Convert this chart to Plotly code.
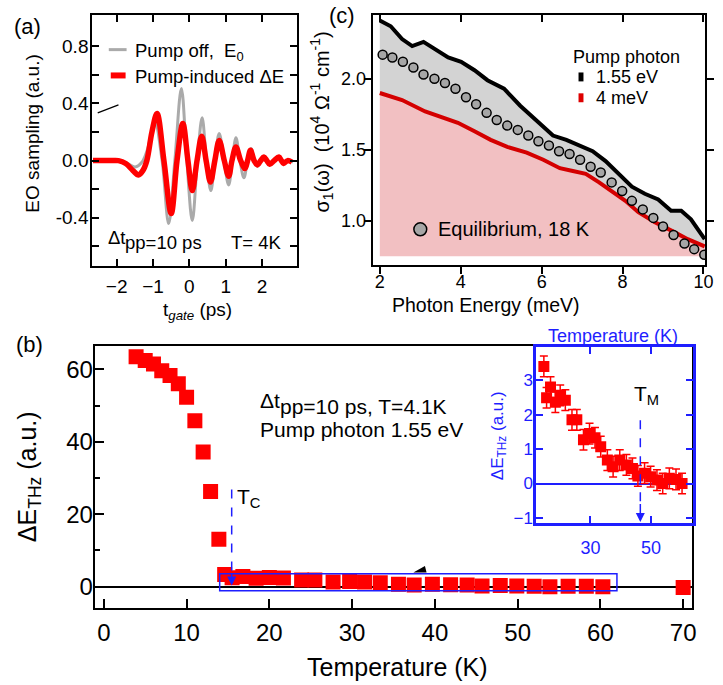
import plotly.graph_objects as go

# ---------------- data ----------------
# (a) EO sampling traces
A_T_E0 = [-2.65, -2.2, -1.9, -1.7, -1.49, -1.3, -1.15, -0.95, -0.75, -0.57, -0.40, -0.22, -0.07, 0.08, 0.22,
          0.35, 0.47, 0.59, 0.70, 0.82, 0.95, 1.08, 1.18, 1.28, 1.39, 1.50, 1.60, 1.70, 1.79, 1.87, 1.96,
          2.05, 2.13, 2.21, 2.33, 2.46, 2.53, 2.59, 2.70, 2.85]
A_E0 = [0.0, 0.0, 0.0, -0.02, -0.045, -0.01, 0.08, 0.27, 0.0, -0.44, 0.0, 0.505, 0.0, -0.42, 0.0,
        0.30, 0.0, -0.21, 0.0, 0.19, 0.0, -0.17, 0.0, 0.16, 0.0, -0.12, 0.0, 0.085, 0.0, -0.04, 0.0,
        0.03, 0.0, -0.025, 0.0, 0.025, 0.0, -0.02, 0.0, -0.01]
A_T_DE = [-2.65, -2.2, -1.95, -1.75, -1.55, -1.40, -1.28, -1.17, -1.03, -0.89, -0.70, -0.50, -0.34, -0.18,
          -0.04, 0.08, 0.21, 0.34, 0.46, 0.58, 0.70, 0.82, 0.96, 1.08, 1.17, 1.28, 1.41, 1.53, 1.60, 1.68,
          1.78, 1.87, 1.96, 2.05, 2.13, 2.21, 2.33, 2.46, 2.53, 2.59, 2.70, 2.82]
A_DE = [0.0, 0.0, 0.0, -0.02, -0.07, -0.10, -0.07, 0.0, 0.20, 0.33, 0.0, -0.37, 0.0, 0.26,
        0.0, -0.21, 0.0, 0.17, 0.0, -0.15, 0.0, 0.14, 0.0, -0.11, 0.0, 0.095, 0.0, -0.056, 0.0, 0.072,
        0.0, -0.03, 0.0, 0.025, 0.0, -0.026, 0.0, 0.025, 0.0, -0.02, 0.0, -0.01]

# (c) optical conductivity
C_E_BLACK = [2.0, 2.27, 2.55, 2.80, 3.08, 3.36, 3.69, 4.01, 4.34, 4.66, 5.07, 5.47, 5.88, 6.28, 6.61,
             6.93, 7.26, 7.58, 7.90, 8.23, 8.55, 8.88, 9.20, 9.45, 9.69, 9.88, 10.03]
C_S_BLACK = [2.41, 2.37, 2.28, 2.23, 2.26, 2.21, 2.15, 2.12, 2.06, 1.99, 1.93, 1.81, 1.70, 1.60, 1.57,
             1.53, 1.49, 1.42, 1.33, 1.24, 1.19, 1.15, 1.07, 1.07, 1.01, 0.93, 0.87]
C_E_RED = [2.0, 2.55, 3.12, 3.52, 3.93, 4.34, 4.74, 5.15, 5.63, 6.04, 6.45, 6.77, 7.09, 7.42, 7.74,
           8.07, 8.39, 8.80, 9.28, 9.61, 10.03]
C_S_RED = [1.90, 1.85, 1.77, 1.73, 1.69, 1.63, 1.57, 1.52, 1.48, 1.43, 1.37, 1.35, 1.33, 1.27, 1.21,
           1.14, 1.06, 0.99, 0.92, 0.87, 0.82]
C_E_EQ = [2.07, 2.31, 2.57, 2.83, 3.08, 3.35, 3.61, 3.87, 4.13, 4.38, 4.64, 4.89, 5.15, 5.41, 5.67,
          5.92, 6.18, 6.43, 6.69, 6.95, 7.21, 7.46, 7.73, 7.99, 8.23, 8.50, 8.76, 9.00, 9.26, 9.53,
          9.77, 10.02]
C_S_EQ = [2.17, 2.15, 2.12, 2.08, 2.03, 2.00, 1.97, 1.93, 1.87, 1.82, 1.76, 1.71, 1.67, 1.64, 1.60,
          1.56, 1.53, 1.49, 1.47, 1.43, 1.38, 1.34, 1.27, 1.21, 1.14, 1.08, 1.02, 0.96, 0.90, 0.84,
          0.80, 0.76]
C_FILL_BASE = 0.75

# (b) temperature dependence
B_T_LOW = [3.9, 5.0, 6.0, 7.0, 8.0, 9.0, 10.0, 11.0, 12.0, 12.9, 13.9]
B_DE_LOW = [63.5, 62.4, 61.5, 59.6, 58.3, 56.0, 52.3, 45.8, 37.2, 26.3, 13.1]
INSET_T = [14.6, 15.5, 16.8, 18.4, 20.0, 21.7, 23.9, 25.5, 27.7, 29.7, 31.5, 33.4, 35.6, 37.5, 39.7,
           41.9, 43.9, 45.7, 47.9, 49.9, 52.0, 53.9, 56.1, 58.3, 60.3]
INSET_DE = [3.4, 2.49, 2.8, 2.36, 2.56, 2.42, 1.85, 1.85, 1.27, 1.45, 1.33, 1.07, 0.68, 0.49, 0.68,
            0.54, 0.44, 0.22, 0.30, 0.20, 0.10, 0.0, 0.15, 0.12, 0.0]
INSET_ERR = [0.3] * len(INSET_T)
B_T_HIGH = [70.0]
B_DE_HIGH = [-0.2]

# ---------------- layout helpers ----------------
W, H = 723, 685
FONT = "Liberation Sans, Arial, sans-serif"
BLUE = "rgb(30,30,255)"


def PX(x):
    return x / W


def PY(y):
    return 1 - y / H


fig = go.Figure()

# (a)
fig.add_trace(go.Scatter(x=A_T_E0, y=A_E0, mode="lines", line=dict(color="#aaaaaa", width=3, shape="spline"),
                         xaxis="x", yaxis="y", showlegend=False))
fig.add_trace(go.Scatter(x=A_T_DE, y=A_DE, mode="lines", line=dict(color="#ff0000", width=5.5, shape="spline"),
                         xaxis="x", yaxis="y", showlegend=False))

# (c) fills
fig.add_trace(go.Scatter(x=[C_E_RED[0], C_E_RED[-1]], y=[C_FILL_BASE, C_FILL_BASE], mode="lines",
                         line=dict(width=0), xaxis="x2", yaxis="y2", showlegend=False))
fig.add_trace(go.Scatter(x=C_E_RED, y=C_S_RED, mode="lines", line=dict(width=0), fill="tonexty",
                         fillcolor="#f2c0c2", xaxis="x2", yaxis="y2", showlegend=False))
fig.add_trace(go.Scatter(x=C_E_BLACK, y=C_S_BLACK, mode="lines", line=dict(width=0), fill="tonexty",
                         fillcolor="#d3d3d3", xaxis="x2", yaxis="y2", showlegend=False))
fig.add_trace(go.Scatter(x=C_E_RED, y=C_S_RED, mode="lines", line=dict(color="#d40000", width=4),
                         xaxis="x2", yaxis="y2", showlegend=False))
fig.add_trace(go.Scatter(x=C_E_BLACK, y=C_S_BLACK, mode="lines", line=dict(color="black", width=4),
                         xaxis="x2", yaxis="y2", showlegend=False))
fig.add_trace(go.Scatter(x=C_E_EQ, y=C_S_EQ, mode="markers",
                         marker=dict(symbol="circle", size=9, color="#a6a6a6", line=dict(color="black", width=1.5)),
                         xaxis="x2", yaxis="y2", showlegend=False))
fig.add_trace(go.Scatter(x=[], y=[], xaxis="x5", yaxis="y2", showlegend=False))

# (b) main
fig.add_trace(go.Scatter(x=B_T_LOW + INSET_T + B_T_HIGH, y=B_DE_LOW + INSET_DE + B_DE_HIGH, mode="markers",
                         marker=dict(symbol="square", size=15, color="#ff0000"),
                         xaxis="x3", yaxis="y3", showlegend=False))
# inset
fig.add_trace(go.Scatter(x=INSET_T, y=INSET_DE, mode="markers",
                         marker=dict(symbol="square", size=11, color="#ff0000"),
                         error_y=dict(type="data", array=INSET_ERR, color="#ff0000", thickness=1.5, width=4),
                         xaxis="x4", yaxis="y4", showlegend=False))

ax_common = dict(showgrid=False, showline=True, linecolor="black", linewidth=2, zeroline=False,
                 tickcolor="black", tickwidth=1.5)

fig.update_layout(
    width=W, height=H, margin=dict(l=0, r=0, t=0, b=0),
    paper_bgcolor="white", plot_bgcolor="rgba(0,0,0,0)",
    font=dict(family=FONT, color="black"),
    xaxis=dict(ax_common, domain=[PX(93.3), PX(300)], anchor="y", range=[-2.67, 2.95],
               tickvals=[-2, -1, 0, 1, 2], ticks="inside", ticklen=7, mirror="allticks",
               tickfont=dict(size=19), ticklabelstandoff=2),
    yaxis=dict(ax_common, domain=[PY(268.3), PY(15)], anchor="x", range=[-0.74, 1.02],
               tickvals=[-0.4, 0.0, 0.4, 0.8], ticktext=["-0.4", "0.0", "0.4", "0.8"],
               ticks="inside", ticklen=7, mirror="allticks", tickfont=dict(size=19), ticklabelstandoff=-2,
               minor=dict(tickvals=[-0.6, -0.2, 0.2, 0.6], ticks="inside", ticklen=7, tickcolor="black")),
    xaxis2=dict(ax_common, domain=[PX(376.7), PX(713)], anchor="y2", range=[1.82, 10.04],
                tickvals=[2, 4, 6, 8, 10], ticks="outside", ticklen=7, mirror=True, tickfont=dict(size=18),
                ticklabelstandoff=-7),
    xaxis5=dict(showgrid=False, zeroline=False, showline=False, overlaying="x2", anchor="y2", side="top",
                matches="x2", tickvals=[2, 4, 6, 8, 10], ticks="inside", ticklen=7, tickcolor="black",
                tickwidth=1.5, showticklabels=False),
    yaxis2=dict(ax_common, domain=[PY(266.7), PY(15)], anchor="x2", range=[0.69, 2.45],
                tickvals=[1.0, 1.5, 2.0], ticktext=["1.0", "1.5", "2.0"], ticks="outside", ticklen=7,
                mirror="allticks", tickfont=dict(size=18), ticklabelstandoff=-6),
    xaxis3=dict(ax_common, domain=[PX(95.7), PX(700)], anchor="y3", range=[-1.11, 71.1],
                tickvals=[0, 10, 20, 30, 40, 50, 60, 70], ticks="inside", ticklen=9, mirror=True,
                tickfont=dict(size=24), ticklabelstandoff=3),
    yaxis3=dict(ax_common, domain=[PY(612), PY(348.3)], anchor="x3", range=[-5.75, 66.5],
                tickvals=[0, 20, 40, 60], ticks="inside", ticklen=9, mirror=True, tickfont=dict(size=24),
                zeroline=True, zerolinecolor="black", zerolinewidth=2, ticklabelstandoff=-5,
                minor=dict(tickvals=[10, 30, 50], ticks="inside", ticklen=5, tickcolor="black")),
    xaxis4=dict(showgrid=False, showline=True, linecolor=BLUE, linewidth=2.5, zeroline=False,
                domain=[PX(542), PX(701)], anchor="y4", range=[12, 64], tickvals=[30, 50],
                ticks="inside", ticklen=7, tickcolor=BLUE, tickwidth=2, mirror="allticks",
                tickfont=dict(size=18, color=BLUE), ticklabelstandoff=6),
    yaxis4=dict(showgrid=False, showline=True, linecolor=BLUE, linewidth=2.5, domain=[PY(527), PY(350)],
                anchor="x4", range=[-1.15, 3.95], tickvals=[-1, 0, 1, 2, 3], ticks="inside", ticklen=7,
                tickcolor=BLUE, tickwidth=2, mirror="allticks", tickfont=dict(size=17, color=BLUE),
                zeroline=True, zerolinecolor=BLUE, zerolinewidth=1.5, ticklabelstandoff=-3),
)

ann = []


def T(text, x, y, size, xanchor="center", color="black", angle=0):
    ann.append(dict(text=text, x=PX(x), y=PY(y), xref="paper", yref="paper", showarrow=False,
                    xanchor=xanchor, yanchor="middle", textangle=angle,
                    font=dict(size=size, color=color, family=FONT)))


# panel labels
T("(a)", 28, 27, 22)
T("(b)", 30, 347, 22)
T("(c)", 346, 16, 22)
# (a)
T("EO sampling (a.u.)", 32, 135, 19, angle=-90)
T("t<sub><i>gate</i></sub> (ps)", 200, 313, 19)
T("Pump off,  E<sub>0</sub>", 134, 52, 18.5, xanchor="left")
T("Pump-induced ΔE", 134, 77, 18.5, xanchor="left")
T("Δt", 107, 239, 18.5, xanchor="left")
T("pp=10 ps", 124, 244, 18.5, xanchor="left")
T("T= 4K", 232, 244, 18.5, xanchor="left")
# (c)
T("σ<sub>1</sub>(ω)  (10<sup>4</sup> Ω<sup>-1</sup> cm<sup>-1</sup>)", 325, 123, 20, angle=-90)
T("Photon Energy (meV)", 491, 307, 19.5)
T("Pump photon", 577, 57, 18, xanchor="left")
T("1.55 eV", 601, 78, 18, xanchor="left")
T("4 meV", 601, 99, 18, xanchor="left")
T("Equilibrium, 18 K", 441, 231, 20, xanchor="left")
# (b)
T("ΔE<sub>THz</sub> (a.u.)", 30, 480, 25, angle=-90)
T("Temperature (K)", 402, 672, 25)
T("Δt", 261, 403, 21, xanchor="left")
T("pp=10 ps, T=4.1K", 281, 409, 21, xanchor="left")
T("Pump photon 1.55 eV", 261, 433, 21, xanchor="left")
T("T<sub>C</sub>", 238, 502, 21, xanchor="left")
# inset
T("Temperature (K)", 620, 338, 18, color=BLUE)
T("ΔE<sub>THz</sub> (a.u.)", 504, 439, 17, color=BLUE, angle=-90)
T("T<sub>M</sub>", 639, 398, 21, xanchor="left")

# arrows
ann.append(dict(x=15.45, y=0.3, ax=15.45, ay=4.0, xref="x3", yref="y3", axref="x3", ayref="y3", text="",
                showarrow=True, arrowhead=2, arrowsize=1.2, arrowwidth=1.5, arrowcolor=BLUE))
ann.append(dict(x=46.5, y=-1.12, ax=46.5, ay=-0.55, xref="x4", yref="y4", axref="x4", ayref="y4", text="",
                showarrow=True, arrowhead=2, arrowsize=1.2, arrowwidth=1.5, arrowcolor=BLUE))
fig.update_layout(annotations=ann)

shapes = [
    # (a) stray line
    dict(type="line", xref="x", yref="y", x0=-2.52, y0=0.334, x1=-1.95, y1=0.39, line=dict(color="black", width=1.2)),
    # (a) legend samples
    dict(type="line", xref="paper", yref="paper", x0=PX(110), x1=PX(128), y0=PY(50), y1=PY(50),
         line=dict(color="#aaaaaa", width=3)),
    dict(type="line", xref="paper", yref="paper", x0=PX(112), x1=PX(127), y0=PY(76), y1=PY(76),
         line=dict(color="#ff0000", width=6)),
    # (c) legend markers
    dict(type="rect", xref="paper", yref="paper", x0=PX(585), x1=PX(590), y0=PY(82), y1=PY(73),
         fillcolor="black", line=dict(width=0)),
    dict(type="rect", xref="paper", yref="paper", x0=PX(585), x1=PX(590), y0=PY(103), y1=PY(94),
         fillcolor="#dd0000", line=dict(width=0)),
    dict(type="circle", xref="paper", yref="paper", x0=PX(418.5), x1=PX(431.5), y0=PY(237.5), y1=PY(224.5),
         fillcolor="#a6a6a6", line=dict(color="black", width=1.5)),
    # (b) blue rectangle
    dict(type="rect", xref="x3", yref="y3", x0=14.0, x1=62.0, y0=-1.1, y1=3.6, layer="above",
         line=dict(color=BLUE, width=1.5)),
    # Tc dashed
    dict(type="line", xref="x3", yref="y3", x0=15.45, x1=15.45, y0=26.8, y1=4.0,
         line=dict(color=BLUE, width=1.5, dash="dash")),
    # small black wedge
    dict(type="path", xref="x3", yref="y3", path="M 37.4 3.9 L 39.0 3.9 L 38.8 5.7 Z",
         fillcolor="black", line=dict(width=0)),
    # TM dashed
    dict(type="line", xref="x4", yref="y4", x0=46.5, x1=46.5, y0=1.84, y1=-0.55,
         line=dict(color=BLUE, width=1.5, dash="dash")),
]
fig.update_layout(shapes=shapes)

fig.write_html("out.html", config={"displayModeBar": False},
               post_script="document.body.style.margin='0px';")
